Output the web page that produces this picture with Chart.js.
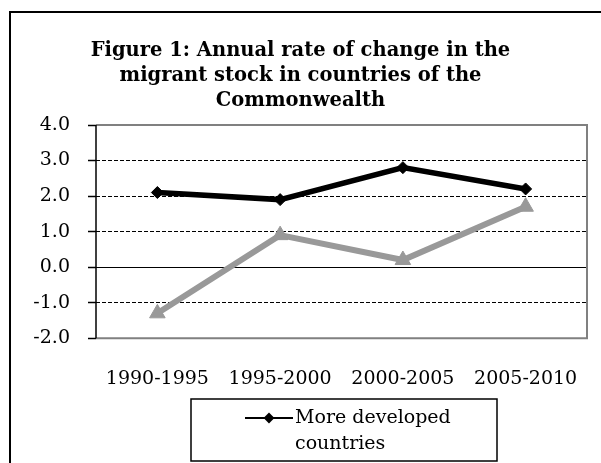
<!DOCTYPE html>
<html>
<head>
<meta charset="utf-8">
<script src="https://cdn.jsdelivr.net/npm/chart.js@4.4.0/dist/chart.umd.min.js"></script>
<style>
    html, body { margin: 0; padding: 0; background: #fff; overflow: hidden; }
</style>
</head>
<body>
<canvas id="chart" width="601" height="463"></canvas>
<script>
// Data
const periods = ["1990-1995", "1995-2000", "2000-2005", "2005-2010"];
const moreDeveloped = [2.1, 1.9, 2.8, 2.2];
const lessDeveloped = [-1.3, 0.9, 0.2, 1.7];
const seriesNames = [["More developed", "countries"], ["Less developed", "countries"]];
const titleLines = [
    "Figure 1: Annual rate of change in the",
    "migrant stock in countries of the",
    "Commonwealth",
];
const yMin = -2;
const yMax = 4;

const serif = "'DejaVu Serif', 'Liberation Serif', serif";

// Outer frame of the figure (runs off the right and bottom edges)
const frame = {
    id: "frame",
    beforeDraw(chart) {
        const c = chart.ctx;
        c.save();
        c.strokeStyle = "#000";
        c.lineWidth = 2;
        c.beginPath();
        c.moveTo(10, chart.height + 5);
        c.lineTo(10, 12);
        c.lineTo(chart.width + 5, 12);
        c.stroke();
        c.restore();
    },
    beforeDatasetsDraw(chart) {
        // grey plot-area box on top, right and bottom
        const a = chart.chartArea;
        const c = chart.ctx;
        c.save();
        c.strokeStyle = "#808080";
        c.lineWidth = 2;
        c.beginPath();
        c.moveTo(a.left, a.top);
        c.lineTo(a.right, a.top);
        c.lineTo(a.right, a.bottom);
        c.lineTo(a.left, a.bottom);
        c.stroke();
        c.strokeStyle = "#000";
        c.lineWidth = 1.5;
        c.beginPath();
        c.moveTo(a.left, a.top);
        c.lineTo(a.left, a.bottom);
        c.stroke();
        c.restore();
    },
};

// Boxed legend below the axis, text wrapped on two lines
const boxedLegend = {
    id: "boxedLegend",
    afterDraw(chart) {
        const c = chart.ctx;
        const box = { x: 191, y: 399, w: 306, h: 62 };
        c.save();
        c.strokeStyle = "#000";
        c.lineWidth = 1.5;
        c.strokeRect(box.x, box.y, box.w, box.h);
        c.beginPath();
        c.rect(box.x, box.y, box.w, box.h);
        c.clip();
        chart.data.datasets.forEach((ds, i) => {
            const y = box.y + 19 + i * 56;
            c.strokeStyle = ds.borderColor;
            c.lineWidth = 2;
            c.beginPath();
            c.moveTo(box.x + 54, y);
            c.lineTo(box.x + 102, y);
            c.stroke();
            Chart.helpers.drawPoint(c, {
                pointStyle: ds.pointStyle,
                radius: 4,
                rotation: 0,
                borderWidth: 1,
            }, box.x + 78, y);
            c.fillStyle = ds.borderColor;
            c.fill();
            c.fillStyle = "#000";
            c.font = "19px " + serif;
            c.textBaseline = "middle";
            ds.label.forEach((t, j) => {
                c.fillText(t, box.x + 104, y + j * 26);
            });
        });
        c.restore();
    },
};

new Chart(document.querySelector("#chart").getContext("2d"), {
    type: "line",
    data: {
        labels: periods,
        datasets: [
            {
                label: seriesNames[0],
                data: moreDeveloped,
                borderColor: "#000",
                backgroundColor: "#000",
                borderWidth: 5.5,
                pointStyle: "rectRot",
                pointRadius: 6,
                pointBorderWidth: 1,
                tension: 0,
            },
            {
                label: seriesNames[1],
                data: lessDeveloped,
                borderColor: "#999999",
                backgroundColor: "#999999",
                borderWidth: 6,
                pointStyle: "triangle",
                pointRadius: 9,
                pointBorderWidth: 1,
                tension: 0,
            },
        ],
    },
    options: {
        responsive: false,
        animation: false,
        layout: {
            padding: { left: 14, right: 14, top: 38, bottom: 73 },
        },
        plugins: {
            legend: { display: false },
            tooltip: { enabled: false },
            title: {
                display: true,
                text: titleLines,
                color: "#000",
                font: { family: serif, size: 19.5, weight: "bold", lineHeight: "25px" },
                padding: { top: 0, bottom: 12 },
            },
        },
        scales: {
            x: {
                offset: true,
                grid: {
                    drawOnChartArea: false,
                    drawTicks: true,
                    tickLength: 29,
                    tickColor: "rgba(0,0,0,0)",
                },
                border: { display: false },
                ticks: {
                    color: "#000",
                    padding: 0,
                    maxRotation: 0,
                    font: { family: serif, size: 19 },
                },
                afterFit: (scale) => {
                    scale.paddingLeft = 0;
                    scale.paddingRight = 0;
                },
            },
            y: {
                min: yMin,
                max: yMax,
                ticks: {
                    stepSize: 1,
                    color: "#000",
                    padding: 18,
                    font: { family: serif, size: 19 },
                    callback: (v) => v.toFixed(1),
                },
                grid: {
                    color: (ctx) =>
                        ctx.tick && (ctx.tick.value === yMin || ctx.tick.value === yMax)
                            ? "rgba(0,0,0,0)"
                            : "#000",
                    lineWidth: 1,
                    tickLength: 8,
                    tickColor: "#000",
                    tickWidth: 1.5,
                },
                border: {
                    display: false,
                    dash: (ctx) => (ctx.tick && ctx.tick.value === 0 ? [] : [4, 2]),
                },
                afterFit: (scale) => {
                    scale.width = 82;
                },
            },
        },
    },
    plugins: [frame, boxedLegend],
});
</script>
</body>
</html>
